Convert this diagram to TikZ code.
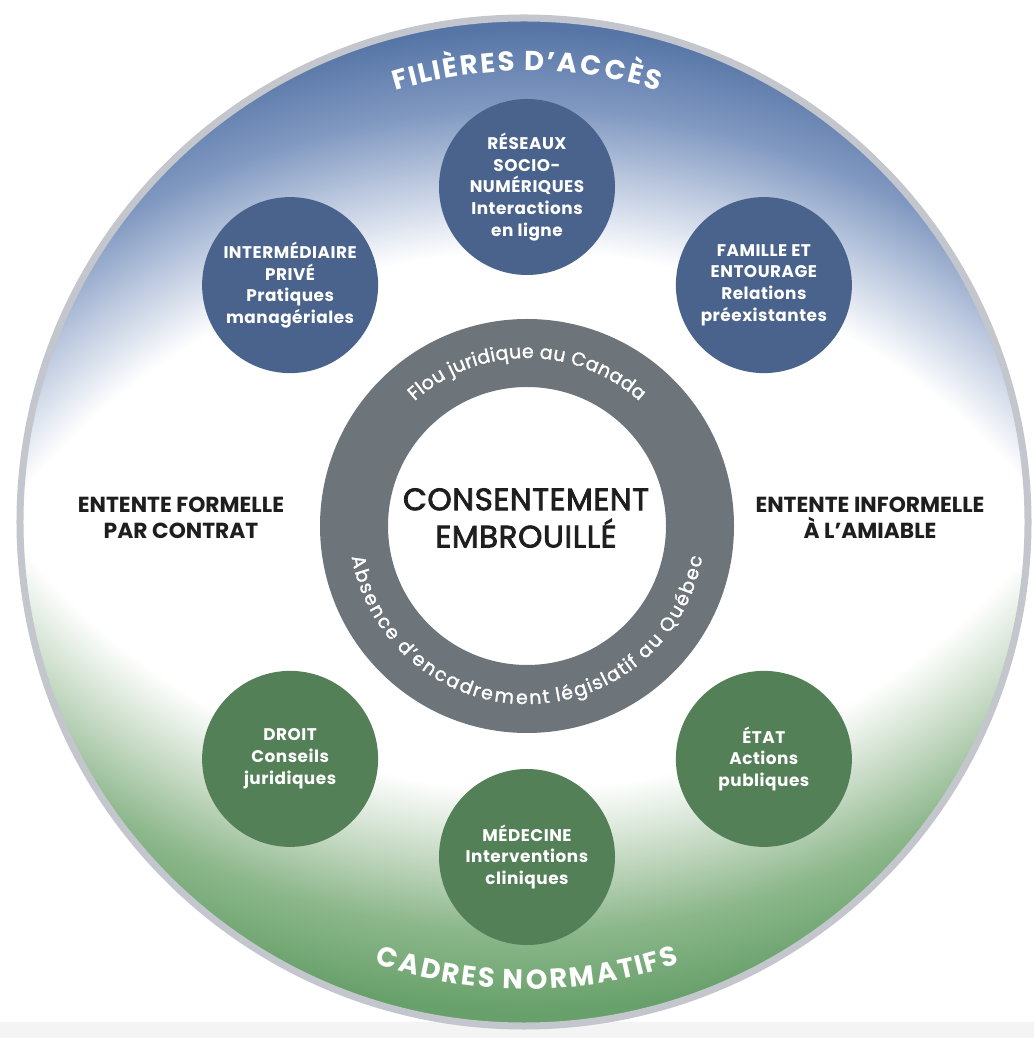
\documentclass[tikz,border=0pt]{standalone}
\usepackage{fontspec}
\setmainfont{Poppins}
\newfontfamily\rondfont{Poppins}[LetterSpace=3]
\newfontfamily\coeurfont{Poppins}[FakeBold=2.5, LetterSpace=2]
\newfontfamily\anneaufont{Poppins}[FakeBold=1.5]
\usetikzlibrary{decorations.text}

\definecolor{bleurond}{HTML}{49638C}
\definecolor{vertrond}{HTML}{538057}
\definecolor{grisanneau}{HTML}{6D757B}
\definecolor{grisbord}{HTML}{C3C6CC}
\definecolor{grisfond}{HTML}{F4F4F4}
\definecolor{bleufonce}{HTML}{5675A6}
\definecolor{bleumoyen}{HTML}{8199C1}
\definecolor{bleuclair}{HTML}{BAC7DE}
\definecolor{vertfonce}{HTML}{67A06A}
\definecolor{vertmoyen}{HTML}{8CB78B}
\definecolor{vertclair}{HTML}{C2D7C0}
\definecolor{encre}{HTML}{1E1E1E}

\pgfdeclareradialshading{fondbleu}{\pgfpointorigin}{color(0bp)=(white); color(18bp)=(white); color(20.2bp)=(bleuclair); color(22bp)=(bleumoyen); color(24.2bp)=(bleufonce); color(50bp)=(bleufonce)}
\pgfdeclareradialshading{fondvert}{\pgfpointorigin}{color(0bp)=(white); color(18bp)=(white); color(20.2bp)=(vertclair); color(22bp)=(vertmoyen); color(24.2bp)=(vertfonce); color(50bp)=(vertfonce)}

\tikzset{
  rond/.style={circle, minimum size=44mm, inner sep=0pt, text=white, align=center,
    font=\rondfont\fontsize{12}{15.5}\selectfont\bfseries},
  entente/.style={align=center, text=encre, font=\fontsize{15.5}{18.6}\selectfont\bfseries},
  courbe/.style={decorate, decoration={text effects along path, text={#1},
    text effects/.cd, text along path, fit text to path}},
}

\begin{document}
\begin{tikzpicture}[x=0.25mm,y=0.25mm]
  \useasboundingbox (-527,-516) rectangle (507,522);
  \coordinate (m1) at (0,0);
  \fill[grisfond] (-527,-516) rectangle (507,-500);

  % fond en degrade
  \begin{scope}
    \clip (-3,0) circle (504);
    \begin{scope}
      \clip (-530,0) rectangle (510,530);
      \shade[shading=fondbleu] (0,-378) circle (900);
    \end{scope}
    \begin{scope}
      \clip (-530,0) rectangle (510,-530);
      \shade[shading=fondvert] (0,382) circle (900);
    \end{scope}
  \end{scope}
  \draw[grisbord, line width=7*0.25mm] (-3,0) circle (504);

  % anneau
  \begin{scope}[shift={(0,-4)}]
    \fill[grisanneau, even odd rule] (0,0) circle (207) (0,0) circle (139);
    \path[courbe={Flou juridique au Canada},
      decoration={text effects/characters={text=white, font=\anneaufont\fontsize{13.5}{13.5}\selectfont}}]
      (132:168) arc[start angle=132, end angle=48, radius=168];
    \path[courbe={Absence d’encadrement législatif au Québec},
      decoration={text effects/characters={text=white, font=\anneaufont\fontsize{13.5}{13.5}\selectfont}}]
      (190:178) arc[start angle=190, end angle=350, radius=178];
  \end{scope}
  \node[text=encre, align=center, font=\coeurfont\fontsize{22}{26.5}\selectfont] (core) at (-1,4)
    {CONSENTEMENT\\EMBROUILLÉ};

  \foreach \ang/\nom/\coul/\txt in {
      90/reseaux/bleurond/{RÉSEAUX\\SOCIO-\\NUMÉRIQUES\\Interactions\\en ligne},
      135/intermediaire/bleurond/{INTERMÉDIAIRE\\PRIVÉ\\Pratiques\\managériales},
      45/famille/bleurond/{FAMILLE ET\\ENTOURAGE\\Relations\\préexistantes},
      225/droit/vertrond/{DROIT\\Conseils\\juridiques},
      270/medecine/vertrond/{MÉDECINE\\Interventions\\cliniques},
      315/etat/vertrond/{ÉTAT\\Actions\\publiques}}
    \node[rond, fill=\coul] (\nom) at (\ang:335) {\txt};

  \node[entente] (formelle) at (-346,4) {ENTENTE FORMELLE\\PAR CONTRAT};
  \node[entente] (informelle) at (343,4) {ENTENTE INFORMELLE\\À L’AMIABLE};

  % titres courbes
  \path[courbe={FILIÈRES D’ACCÈS},
    decoration={text effects/characters={text=white, font=\fontsize{19.5}{19.5}\selectfont\bfseries}}]
    (107:451) arc[start angle=107, end angle=73, radius=451];
  \path[courbe={CADRES NORMATIFS},
    decoration={text effects/characters={text=white, font=\fontsize{19.5}{19.5}\selectfont\bfseries}}]
    (251:467) arc[start angle=251, end angle=289, radius=467];
\end{tikzpicture}
\end{document}
